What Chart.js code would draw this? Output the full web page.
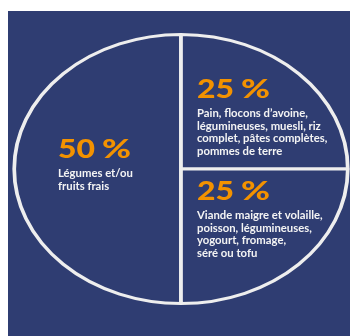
<!DOCTYPE html>
<html><head><meta charset="utf-8">
<script src="https://cdn.jsdelivr.net/npm/chart.js@4"></script>
<style>html,body{margin:0;padding:0;background:#fff;}#wrap{width:350px;height:336px;position:relative;}</style>
</head><body><div id="wrap"><canvas id="c" width="350" height="336"></canvas></div>
<script>
const categories = ['Légumes et/ou fruits frais', 'Pain, flocons d’avoine, légumineuses, muesli, riz complet, pâtes complètes, pommes de terre', 'Viande maigre et volaille, poisson, légumineuses, yogourt, fromage, séré ou tofu'];
const shares = [50, 25, 25];
const percentLabels = ['50', '25', '25'];
const percentSign = '%';
const descLines = [
  ['Légumes et/ou', 'fruits frais'],
  ['Pain, flocons d’avoine,', 'légumineuses, muesli, riz', 'complet, pâtes complètes,', 'pommes de terre'],
  ['Viande maigre et volaille,', 'poisson, légumineuses,', 'yogourt, fromage,', 'séré ou tofu']
];

const BG = '#2f3d72';
const SX = 1.24;
const textPos = [ {x:58, y:158}, {x:197, y:98}, {x:197, y:200} ];

function drawStretched(ctx, txt, x, y, w){
  const m = ctx.measureText(txt).width;
  ctx.save();
  ctx.translate(x, y);
  ctx.scale(w / m, 1);
  ctx.fillText(txt, 0, 0);
  ctx.restore();
}

const bgPlugin = {
  id:'bg',
  beforeDraw(chart){
    const ctx = chart.ctx;
    ctx.save();
    ctx.fillStyle = '#ffffff';
    ctx.fillRect(0,0,chart.width,chart.height);
    ctx.fillStyle = BG;
    ctx.fillRect(8,11,chart.width-8,chart.height-11);
    ctx.restore();
  },
  beforeDatasetsDraw(chart){
    const a = chart.chartArea;
    const cx = (a.left+a.right)/2;
    const ctx = chart.ctx;
    ctx.save();
    ctx.translate(cx,0);
    ctx.scale(SX,1);
    ctx.translate(-cx,0);
  },
  afterDatasetsDraw(chart){
    chart.ctx.restore();
  },
  afterDraw(chart){
    const ctx = chart.ctx;
    ctx.save();
    ctx.textAlign = 'left';
    ctx.textBaseline = 'alphabetic';
    percentLabels.forEach((p,i)=>{
      const pos = textPos[i];
      ctx.fillStyle = '#f39200';
      ctx.font = '900 27px Lato';
      drawStretched(ctx, p, pos.x, pos.y, 37);
      drawStretched(ctx, percentSign, pos.x + 44, pos.y, 29);
      ctx.fillStyle = '#f4f4f4';
      ctx.font = 'bold 11.3px Lato';
      descLines[i].forEach((l,j)=>{
        ctx.fillText(l, pos.x, pos.y + 19 + j*12.6);
      });
    });
    ctx.restore();
  }
};

new Chart(document.getElementById('c'), {
  type:'pie',
  data:{ labels: categories, datasets:[{ data: shares, backgroundColor: BG, borderColor:'#eeeeee', borderWidth:3 }]},
  options:{
    responsive:false, animation:false, rotation:180,
    layout:{ padding:{ top:33, bottom:31, left:45, right:33 } },
    plugins:{ legend:{display:false}, tooltip:{enabled:false} }
  },
  plugins:[bgPlugin]
});
</script></body></html>
